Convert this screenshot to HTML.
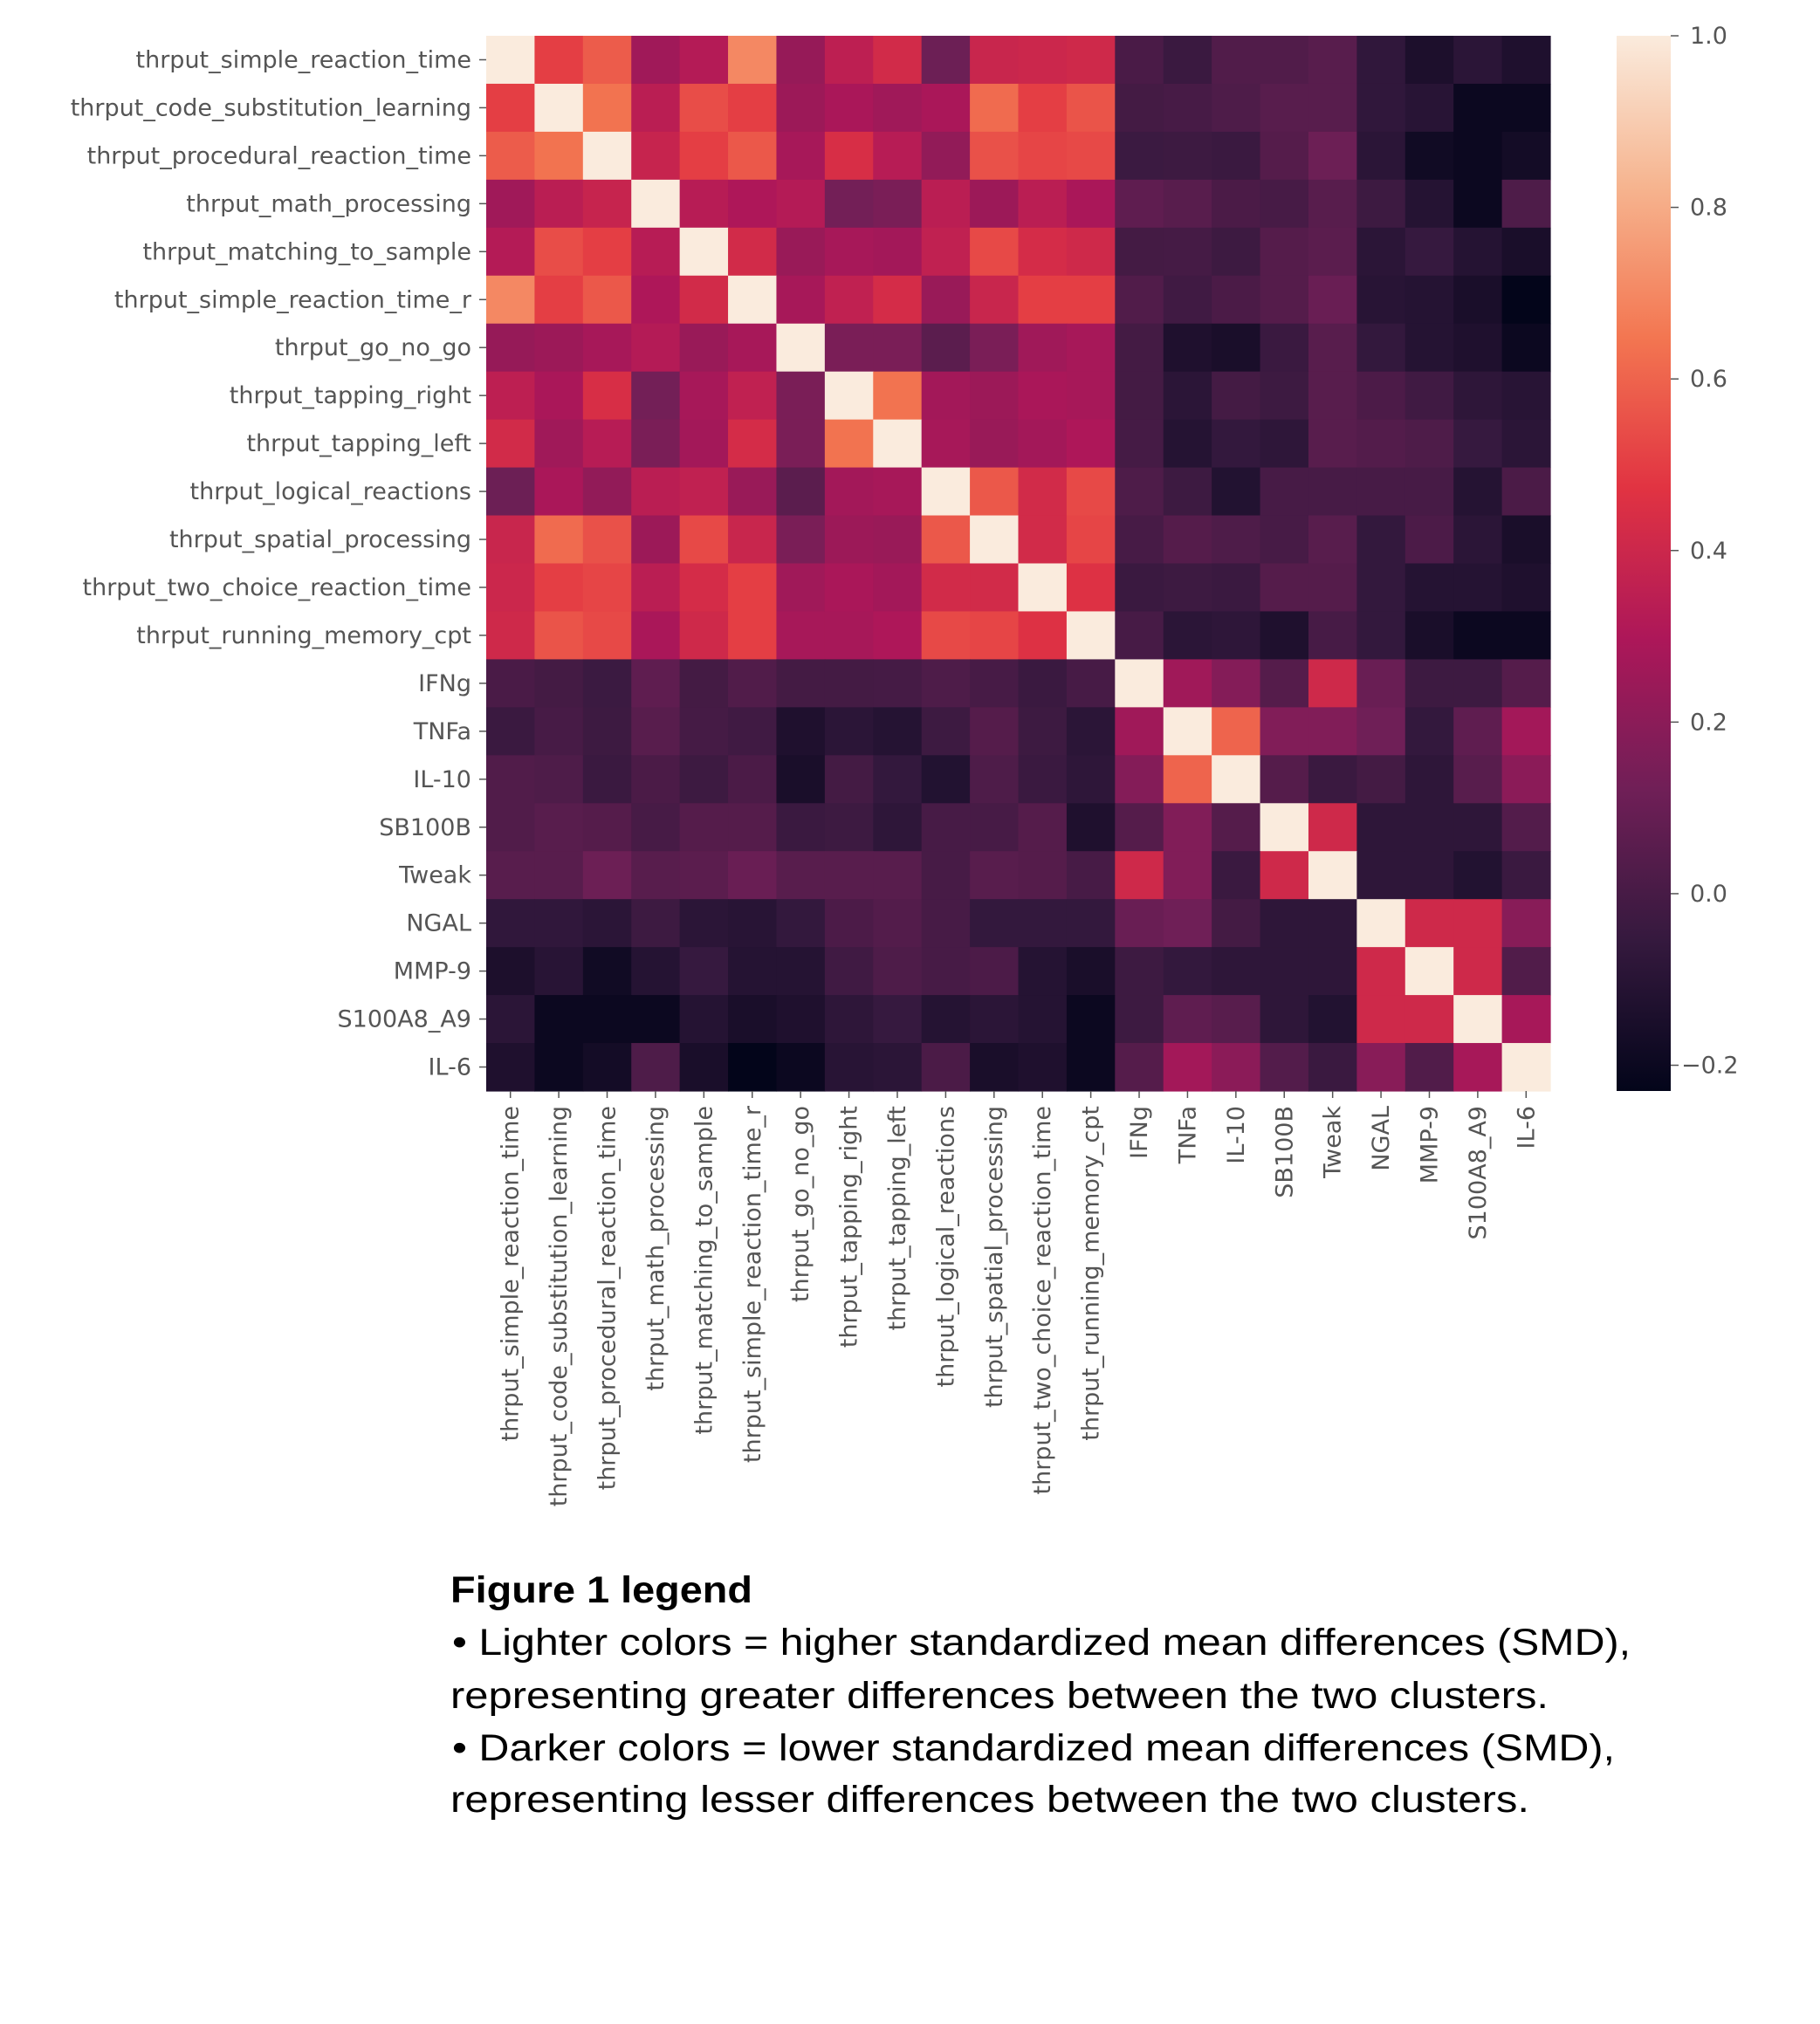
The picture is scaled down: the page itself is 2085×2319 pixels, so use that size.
<!DOCTYPE html>
<html><head><meta charset="utf-8"><style>
html,body{margin:0;padding:0;background:#fff;}
svg{display:block;}
</style></head><body>
<svg id="chart" width="2085" height="2319" xmlns="http://www.w3.org/2000/svg">
<defs>
<linearGradient id="rocket" x1="0" y1="1" x2="0" y2="0">
<stop offset="0" stop-color="#03051a"/><stop offset="0.143" stop-color="#35193e"/><stop offset="0.286" stop-color="#701f57"/><stop offset="0.429" stop-color="#ad1759"/><stop offset="0.571" stop-color="#e13342"/><stop offset="0.714" stop-color="#f37651"/><stop offset="0.857" stop-color="#f6b48f"/><stop offset="1" stop-color="#faebdd"/>
</linearGradient>
</defs>
<g id="cells"></g>
<g id="ylabels"></g>
<g id="xlabels"></g>
<rect x="1852" y="41" width="62" height="1209" fill="url(#rocket)"/>
<g id="cbticks"></g>
<g font-family="Liberation Sans, sans-serif" font-size="43" fill="#000">
<text x="516" y="1836" font-weight="bold" textLength="346" lengthAdjust="spacingAndGlyphs">Figure 1 legend</text>
<text x="518" y="1896" textLength="1350" lengthAdjust="spacingAndGlyphs">• Lighter colors = higher standardized mean differences (SMD),</text>
<text x="516" y="1957" textLength="1258" lengthAdjust="spacingAndGlyphs">representing greater differences between the two clusters.</text>
<text x="518" y="2017" textLength="1332" lengthAdjust="spacingAndGlyphs">• Darker colors = lower standardized mean differences (SMD),</text>
<text x="516" y="2076" textLength="1236" lengthAdjust="spacingAndGlyphs">representing lesser differences between the two clusters.</text>
</g>
</svg>
<script>
const categories = ["thrput_simple_reaction_time","thrput_code_substitution_learning","thrput_procedural_reaction_time","thrput_math_processing","thrput_matching_to_sample","thrput_simple_reaction_time_r","thrput_go_no_go","thrput_tapping_right","thrput_tapping_left","thrput_logical_reactions","thrput_spatial_processing","thrput_two_choice_reaction_time","thrput_running_memory_cpt","IFNg","TNFa","IL-10","SB100B","Tweak","NGAL","MMP-9","S100A8_A9","IL-6"];
// upper-triangle rows (values from diagonal+1 onward); matrix is symmetric
const upperRows = [
[.50,.58,.26,.32,.70,.23,.35,.42,.11,.39,.40,.41,.008,-.04,.03,.03,.05,-.07,-.14,-.09,-.13],
[.64,.34,.54,.50,.25,.29,.26,.29,.62,.50,.56,-.01,0,.02,.05,.05,-.07,-.10,-.20,-.20],
[.38,.50,.57,.28,.44,.33,.22,.55,.52,.53,-.035,-.03,-.04,.04,.11,-.09,-.18,-.20,-.17],
[.33,.30,.32,.13,.15,.34,.25,.34,.29,.07,.05,.01,0,.05,-.03,-.11,-.20,.02],
[.42,.24,.28,.27,.36,.53,.43,.41,-.01,-.005,-.03,.04,.06,-.09,-.05,-.11,-.15],
[.28,.36,.43,.24,.39,.50,.50,.03,-.02,.01,.04,.10,-.10,-.11,-.15,-.23],
[.15,.15,.06,.15,.26,.28,-.01,-.13,-.15,-.04,.05,-.06,-.11,-.13,-.20],
[.64,.27,.25,.29,.28,-.01,-.09,-.01,-.03,.05,.015,-.02,-.08,-.10],
[.28,.24,.27,.30,-.005,-.11,-.06,-.08,.05,.035,.02,-.05,-.09],
[.57,.42,.53,.02,-.03,-.12,0,0,0,0,-.11,.01],
[.42,.52,0,.04,.02,0,.05,-.06,.015,-.09,-.15],
[.46,-.04,-.03,-.04,.04,.04,-.06,-.11,-.11,-.13],
[0,-.09,-.08,-.13,0,-.06,-.15,-.20,-.20],
[.26,.18,.04,.41,.10,-.03,-.03,.04],
[.60,.17,.17,.12,-.06,.07,.27],
[.04,-.04,-.01,-.08,.05,.20],
[.41,-.08,-.08,-.08,.035],
[-.08,-.08,-.12,-.04],
[.41,.41,.19],
[.41,.03],
[.28],
[]
];
const colorbarTicks = [1.0,0.8,0.6,0.4,0.2,0.0,-0.2];
const colorbarTickLabels = ["1.0","0.8","0.6","0.4","0.2","0.0","\u22120.2"];
const vmin = -0.23, vmax = 1.0;

const NS="http://www.w3.org/2000/svg";
const X0=557, Y0=41, W=1219, H=1209;
const n=categories.length, cw=W/n, ch=H/n;
const xPos=i=>X0+i*cw, yPos=i=>Y0+i*ch;
const stops=[[0,[3,5,26]],[.143,[53,25,62]],[.286,[112,31,87]],[.429,[173,23,89]],[.571,[225,51,66]],[.714,[243,118,81]],[.857,[246,180,143]],[1,[250,235,221]]];
function color(v){let t=(v-vmin)/(vmax-vmin);t=Math.max(0,Math.min(1,t));
 for(let k=1;k<stops.length;k++){if(t<=stops[k][0]){const a=stops[k-1],b=stops[k],f=(t-a[0])/(b[0]-a[0]);
 return 'rgb('+a[1].map((c,j)=>Math.round(c+f*(b[1][j]-c))).join(',')+')';}}return 'rgb(250,235,221)';}
function val(i,j){if(i===j)return 1;if(i>j){const t=i;i=j;j=t;}return upperRows[i][j-i-1];}
const cells=document.getElementById('cells');
for(let i=0;i<n;i++)for(let j=0;j<n;j++){
 const r=document.createElementNS(NS,'rect');
 
 
 r.setAttribute('x',xPos(j));r.setAttribute('y',yPos(i));
 r.setAttribute('width',cw+0.6);r.setAttribute('height',ch+0.6);
 r.setAttribute('fill',color(val(i,j)));cells.appendChild(r);}
const yl=document.getElementById('ylabels'), xl=document.getElementById('xlabels');
for(let i=0;i<n;i++){
 const cy=yPos(i)+ch/2;
 const tk=document.createElementNS(NS,'line');
 
 
 tk.setAttribute('x1',X0-8);tk.setAttribute('x2',X0);tk.setAttribute('y1',cy);tk.setAttribute('y2',cy);
 tk.setAttribute('stroke','#555');tk.setAttribute('stroke-width','1.5');yl.appendChild(tk);
 const t=document.createElementNS(NS,'text');
 
 
 t.setAttribute('x',X0-17);t.setAttribute('y',cy+9);t.setAttribute('text-anchor','end');
 t.setAttribute('font-family','DejaVu Sans, sans-serif');t.setAttribute('font-size','27');t.setAttribute('fill','#555');
 t.textContent=categories[i];yl.appendChild(t);
 const cx=xPos(i)+cw/2;
 const tx=document.createElementNS(NS,'line');
 
 
 tx.setAttribute('x1',cx);tx.setAttribute('x2',cx);tx.setAttribute('y1',Y0+H);tx.setAttribute('y2',Y0+H+8);
 tx.setAttribute('stroke','#555');tx.setAttribute('stroke-width','1.5');xl.appendChild(tx);
 const u=document.createElementNS(NS,'text');
 
 
 u.setAttribute('transform','translate('+(cx+9)+','+(Y0+H+17)+') rotate(-90)');
 u.setAttribute('text-anchor','end');
 u.setAttribute('font-family','DejaVu Sans, sans-serif');u.setAttribute('font-size','27');u.setAttribute('fill','#555');
 u.textContent=categories[i];xl.appendChild(u);}
const cb=document.getElementById('cbticks');
colorbarTicks.forEach((v,k)=>{
 const y=Y0+(vmax-v)/(vmax-vmin)*H;
 const l=document.createElementNS(NS,'line');
 
 
 l.setAttribute('x1',1914);l.setAttribute('x2',1923);l.setAttribute('y1',y);l.setAttribute('y2',y);
 l.setAttribute('stroke','#555');l.setAttribute('stroke-width','1.5');cb.appendChild(l);
 const t=document.createElementNS(NS,'text');
 
 
 t.setAttribute('x',k===6?1926:1936);t.setAttribute('y',y+9);
 t.setAttribute('font-family','DejaVu Sans, sans-serif');t.setAttribute('font-size','27');t.setAttribute('fill','#555');
 t.textContent=colorbarTickLabels[k];cb.appendChild(t);});
</script>
</body></html>
